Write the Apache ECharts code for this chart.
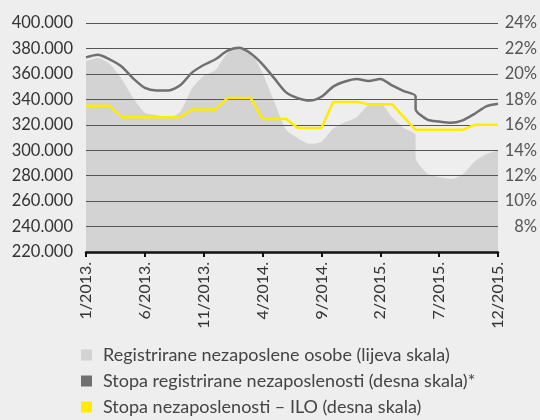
<!DOCTYPE html>
<html>
<head>
<meta charset="utf-8">
<script src="https://cdn.jsdelivr.net/npm/echarts@6/dist/echarts.min.js"></script>
<style>
html,body{margin:0;padding:0;background:#eeeeee;}
#c{width:540px;height:420px;}
</style>
</head>
<body>
<div id="c"></div>
<script>
var months = ["1/2013.","2/2013.","3/2013.","4/2013.","5/2013.","6/2013.","7/2013.","8/2013.","9/2013.","10/2013.","11/2013.","12/2013.",
  "1/2014.","2/2014.","3/2014.","4/2014.","5/2014.","6/2014.","7/2014.","8/2014.","9/2014.","10/2014.","11/2014.","12/2014.",
  "1/2015.","2/2015.","3/2015.","4/2015.","5/2015.","6/2015.","7/2015.","8/2015.","9/2015.","10/2015.","11/2015.","12/2015."];
// methodological break in 5/2015 (index 28): old series up to and incl. 5/2015, new series from 5/2015
var breakIndex = 28;
var registeredOld = [370000,372500,368000,356500,341000,329500,327500,325500,330000,348500,358500,363000,
  376000,380500,377500,360500,338000,316000,309500,305000,306500,317000,322000,326000,
  335500,337000,326000,317500,312000];
var registeredNew = [294000,281500,279000,277500,281000,291000,297000,300000];
var rateOld = [21.3,21.5,21.15,20.6,19.65,18.9,18.7,18.7,19.1,20.1,20.7,21.15,
  21.8,22.05,21.6,20.75,19.65,18.55,18.1,17.9,18.2,19.0,19.4,19.6,
  19.45,19.6,19.1,18.65,18.25];
var rateNew = [17.25,16.4,16.25,16.15,16.35,16.85,17.45,17.65];
var rateILO = [17.5,17.5,17.5,16.6,16.6,16.6,16.6,16.6,16.6,17.2,17.2,17.2,
  18.1,18.1,18.1,16.45,16.45,16.45,15.75,15.75,15.75,17.8,17.8,17.8,
  17.62,17.62,17.62,16.6,15.6,15.6,15.6,15.6,15.6,16.0,16.0,16.0];
var seriesNames = ["Registrirane nezaposlene osobe (lijeva skala)",
  "Stopa registrirane nezaposlenosti (desna skala)*",
  "Stopa nezaposlenosti – ILO (desna skala)"];

function joinBreak(oldArr, newArr){
  var d = oldArr.map(function(v,i){return [i,v];});
  return d.concat(newArr.map(function(v,i){return [breakIndex+i,v];}));
}
var FONT = 'Lato';
var chart = echarts.init(document.getElementById('c'), null, {renderer:'canvas'});
chart.setOption({
  backgroundColor:'#eeeeee',
  animation:false,
  textStyle:{fontFamily:FONT},
  grid:{left:86,right:40,top:23,bottom:168},
  legend:{
    orient:'vertical', left:81, top:346, padding:0, itemGap:8, height:80,
    itemWidth:11, itemHeight:11, icon:'rect',
    textStyle:{fontFamily:FONT,fontSize:18,lineHeight:18,color:'#444',padding:[0,0,0,6]},
    data:seriesNames
  },
  xAxis:{
    type:'value', min:0, max:months.length-1, interval:5,
    axisLine:{show:true,onZero:false,lineStyle:{color:'#111',width:2.5}},
    axisTick:{show:true,length:5,lineStyle:{color:'#111',width:2}},
    splitLine:{show:false},
    axisLabel:{rotate:90,fontSize:16,color:'#333',margin:10,fontFamily:FONT,
      formatter:function(v){return months[v]||'';}},
    z:5
  },
  yAxis:[{
    type:'value', min:220000, max:400000, interval:20000, position:'left',
    axisLine:{show:false}, axisTick:{show:false},
    axisLabel:{fontSize:16.5,color:'#333',margin:13,fontFamily:FONT,
      formatter:function(v){return String(v/1000)+'.000';}},
    splitLine:{show:true,lineStyle:{color:'#555',width:1.2}},
    z:2
  },{
    type:'value', min:6, max:24, interval:2, position:'right',
    axisLine:{show:false}, axisTick:{show:false},
    axisLabel:{fontSize:16.5,color:'#555',margin:39,align:'right',fontFamily:FONT,
      formatter:function(v){return v===6?'':v+'%';}},
    splitLine:{show:false}
  }],
  series:[{
    name:seriesNames[0], type:'line', yAxisIndex:0, z:1,
    data:joinBreak(registeredOld, registeredNew),
    symbol:'none', smooth:0.2,
    lineStyle:{width:0,color:'#d3d3d3'},
    itemStyle:{color:'#d3d3d3'},
    areaStyle:{color:'#d3d3d3',opacity:1,origin:'start'}
  },{
    name:seriesNames[1], type:'line', yAxisIndex:1, z:3,
    data:joinBreak(rateOld, rateNew),
    symbol:'none', smooth:0.25,
    lineStyle:{width:2.5,color:'#707070'},
    itemStyle:{color:'#707070'}
  },{
    name:seriesNames[2], type:'line', yAxisIndex:1, z:4,
    data:rateILO.map(function(v,i){return [i,v];}),
    symbol:'none',
    lineStyle:{width:2.5,color:'#ffec00'},
    itemStyle:{color:'#ffec00'}
  }]
});
</script>
</body>
</html>
